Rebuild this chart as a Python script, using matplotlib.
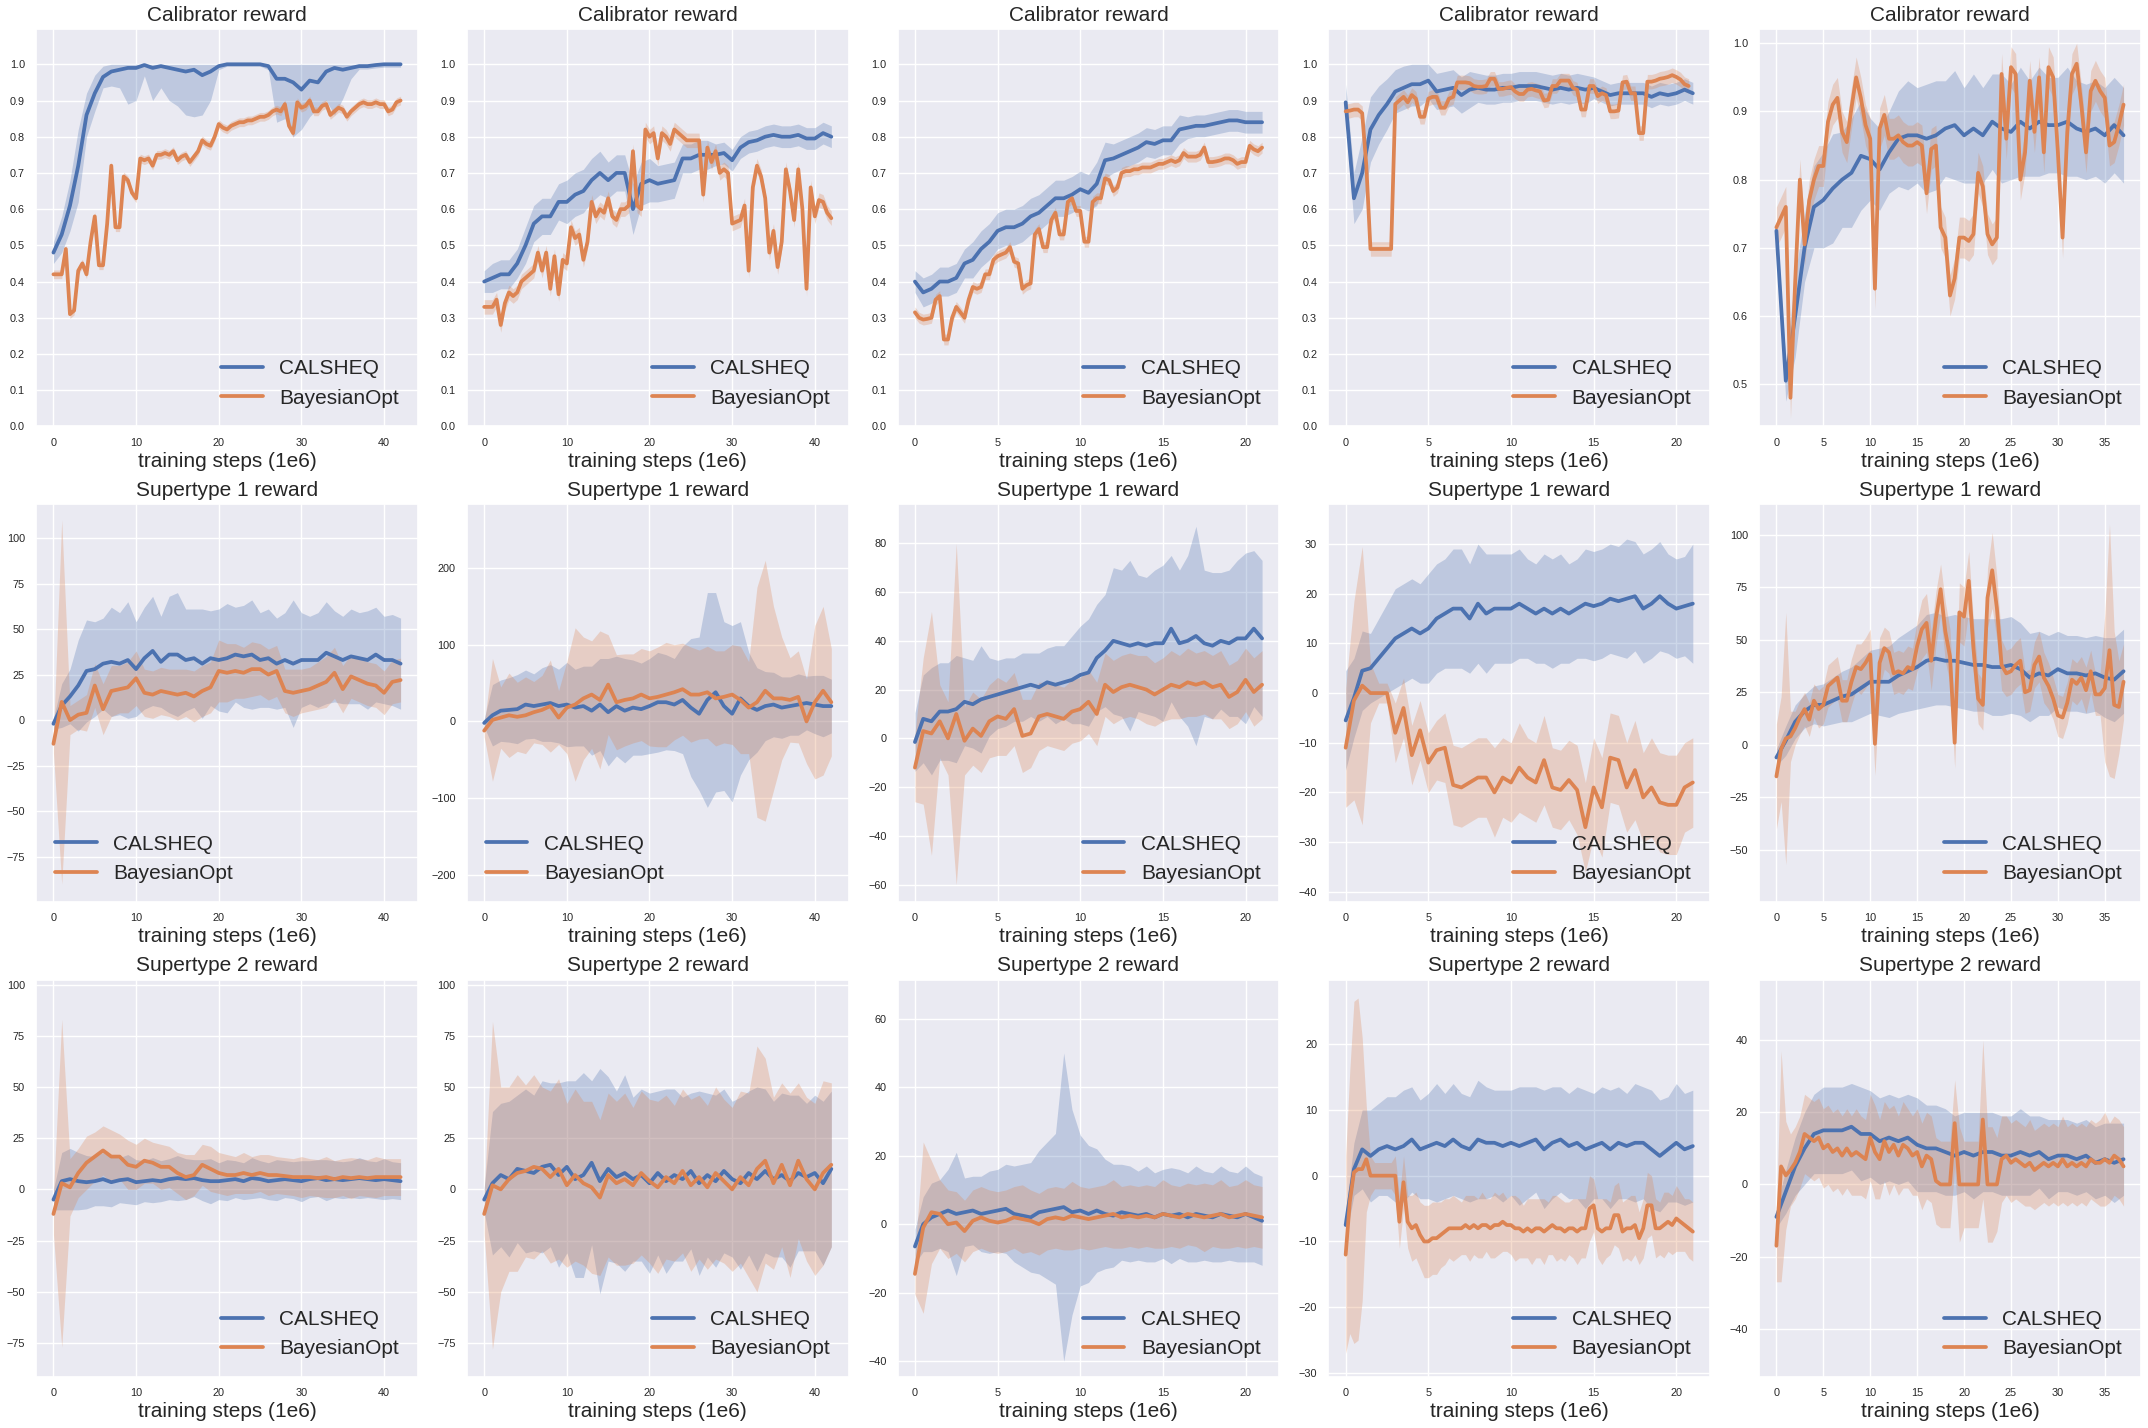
import matplotlib.pyplot as plt
import numpy as np
import seaborn as sns
from matplotlib.ticker import MultipleLocator

sns.set_theme(style='darkgrid')
plt.rcParams['font.family'] = ['Liberation Sans', 'DejaVu Sans']

labels = ['CALSHEQ', 'BayesianOpt']
titles = ['Calibrator reward', 'Supertype 1 reward', 'Supertype 2 reward']

# ---------------- Calibrator reward ----------------
cal1_q = [0.48,0.53,0.61,0.72,0.86,0.92,0.965,0.98,0.985,0.99,0.99,0.998,0.99,0.995,0.99,0.985,0.98,0.985,0.97,0.98,0.995,1.0,1.0,1.0,1.0,1.0,0.995,0.96,0.96,0.95,0.93,0.955,0.95,0.98,0.99,0.985,0.99,0.995,0.995,0.998,1.0,1.0,1.0]
cal1_q_sd = [0.03,0.05,0.07,0.1,0.06,0.05,0.03,0.04,0.05,0.1,0.09,0.03,0.09,0.06,0.09,0.1,0.12,0.13,0.11,0.08,0.01,0.005,0.005,0.005,0.005,0.005,0.01,0.12,0.11,0.15,0.11,0.1,0.07,0.08,0.13,0.08,0.03,0.008,0.008,0.008,0.008,0.008,0.008]
cal1_b = [0.42,0.42,0.42,0.49,0.31,0.32,0.43,0.45,0.42,0.51,0.58,0.445,0.445,0.56,0.72,0.55,0.55,0.69,0.68,0.645,0.63,0.74,0.735,0.74,0.72,0.75,0.75,0.755,0.75,0.76,0.735,0.745,0.75,0.73,0.745,0.76,0.79,0.78,0.775,0.80,0.835,0.825,0.82,0.83,0.835,0.84,0.84,0.845,0.845,0.85,0.855,0.855,0.86,0.87,0.875,0.87,0.89,0.83,0.81,0.895,0.88,0.885,0.90,0.87,0.87,0.885,0.89,0.86,0.87,0.88,0.875,0.855,0.87,0.88,0.89,0.895,0.89,0.89,0.895,0.89,0.89,0.87,0.875,0.895,0.90]

cal2_q = [0.40,0.41,0.42,0.42,0.45,0.50,0.56,0.58,0.58,0.62,0.62,0.64,0.65,0.68,0.70,0.68,0.70,0.70,0.60,0.67,0.68,0.67,0.675,0.68,0.74,0.74,0.75,0.75,0.75,0.755,0.735,0.77,0.785,0.79,0.80,0.805,0.80,0.80,0.805,0.795,0.795,0.81,0.80]
cal2_q_sd = [0.03,0.04,0.04,0.04,0.04,0.05,0.05,0.05,0.05,0.05,0.06,0.06,0.06,0.06,0.06,0.05,0.05,0.05,0.07,0.06,0.06,0.05,0.05,0.05,0.04,0.04,0.04,0.04,0.03,0.03,0.03,0.03,0.03,0.03,0.03,0.03,0.03,0.03,0.03,0.03,0.03,0.03,0.03]
cal2_b = [0.33,0.33,0.33,0.35,0.28,0.34,0.37,0.36,0.37,0.40,0.41,0.42,0.43,0.48,0.43,0.48,0.38,0.47,0.365,0.46,0.45,0.55,0.52,0.53,0.46,0.51,0.62,0.58,0.60,0.59,0.63,0.58,0.57,0.60,0.60,0.61,0.76,0.61,0.60,0.82,0.80,0.81,0.74,0.81,0.80,0.78,0.82,0.81,0.80,0.79,0.79,0.79,0.79,0.64,0.77,0.73,0.76,0.70,0.71,0.70,0.56,0.565,0.57,0.61,0.43,0.66,0.72,0.69,0.63,0.48,0.54,0.44,0.51,0.71,0.65,0.57,0.71,0.60,0.38,0.66,0.58,0.625,0.62,0.59,0.575]

cal3_q = [0.40,0.37,0.38,0.40,0.40,0.41,0.45,0.46,0.49,0.51,0.54,0.55,0.55,0.56,0.58,0.59,0.61,0.63,0.63,0.64,0.655,0.645,0.67,0.735,0.74,0.75,0.76,0.77,0.785,0.78,0.79,0.79,0.82,0.825,0.83,0.83,0.835,0.84,0.845,0.845,0.84,0.84,0.84]
cal3_q_sd = [0.03,0.04,0.04,0.04,0.04,0.04,0.04,0.05,0.05,0.05,0.05,0.05,0.05,0.05,0.05,0.05,0.05,0.05,0.05,0.05,0.05,0.05,0.06,0.05,0.04,0.04,0.04,0.04,0.04,0.04,0.04,0.04,0.04,0.03,0.03,0.03,0.03,0.03,0.03,0.03,0.03,0.03,0.03]
cal3_b = [0.315,0.30,0.295,0.297,0.30,0.35,0.36,0.24,0.24,0.30,0.33,0.315,0.30,0.35,0.385,0.38,0.385,0.42,0.42,0.46,0.47,0.475,0.48,0.495,0.455,0.45,0.38,0.39,0.395,0.53,0.545,0.495,0.495,0.57,0.59,0.53,0.53,0.62,0.63,0.595,0.595,0.51,0.51,0.62,0.63,0.63,0.685,0.68,0.65,0.66,0.70,0.705,0.705,0.71,0.71,0.715,0.715,0.715,0.72,0.725,0.725,0.73,0.735,0.73,0.735,0.755,0.745,0.745,0.745,0.75,0.77,0.73,0.73,0.732,0.735,0.74,0.74,0.735,0.725,0.73,0.73,0.775,0.765,0.76,0.77]

cal4_q = [0.895,0.63,0.70,0.82,0.86,0.89,0.925,0.935,0.945,0.945,0.955,0.925,0.93,0.935,0.915,0.93,0.935,0.93,0.93,0.935,0.935,0.94,0.94,0.94,0.935,0.93,0.935,0.93,0.935,0.93,0.935,0.925,0.915,0.92,0.92,0.92,0.92,0.91,0.92,0.915,0.92,0.93,0.92]
cal4_q_sd = [0.05,0.07,0.1,0.09,0.08,0.07,0.06,0.06,0.06,0.06,0.05,0.05,0.05,0.05,0.05,0.05,0.04,0.04,0.04,0.04,0.04,0.04,0.04,0.04,0.04,0.04,0.04,0.04,0.04,0.04,0.03,0.03,0.03,0.03,0.03,0.03,0.03,0.03,0.03,0.03,0.03,0.03,0.03]
cal4_b = [0.87,0.872,0.875,0.875,0.865,0.72,0.49,0.49,0.49,0.49,0.49,0.49,0.89,0.90,0.91,0.895,0.915,0.905,0.855,0.855,0.905,0.91,0.91,0.88,0.88,0.905,0.91,0.95,0.95,0.95,0.948,0.94,0.938,0.938,0.94,0.96,0.96,0.932,0.932,0.935,0.937,0.925,0.918,0.918,0.93,0.932,0.928,0.925,0.90,0.902,0.94,0.94,0.955,0.955,0.955,0.935,0.93,0.875,0.875,0.94,0.94,0.912,0.92,0.915,0.87,0.87,0.872,0.95,0.952,0.92,0.92,0.81,0.81,0.952,0.952,0.955,0.96,0.962,0.965,0.97,0.965,0.958,0.945,0.94]

cal5_q = [0.725,0.505,0.60,0.70,0.76,0.77,0.787,0.80,0.81,0.835,0.83,0.815,0.84,0.86,0.865,0.865,0.86,0.865,0.875,0.88,0.865,0.875,0.865,0.885,0.875,0.87,0.885,0.875,0.885,0.88,0.88,0.885,0.875,0.87,0.875,0.865,0.88,0.865]
cal5_q_sd = [0.01,0.03,0.06,0.05,0.06,0.07,0.08,0.07,0.08,0.08,0.06,0.06,0.06,0.07,0.08,0.07,0.08,0.08,0.07,0.08,0.07,0.08,0.07,0.07,0.08,0.07,0.08,0.07,0.08,0.07,0.07,0.08,0.07,0.07,0.07,0.07,0.07,0.07]
cal5_b = [0.73,0.745,0.76,0.48,0.65,0.80,0.705,0.77,0.80,0.82,0.82,0.885,0.91,0.92,0.87,0.855,0.905,0.95,0.92,0.88,0.86,0.64,0.875,0.895,0.86,0.86,0.865,0.855,0.85,0.85,0.855,0.85,0.78,0.845,0.85,0.73,0.715,0.63,0.655,0.715,0.715,0.71,0.72,0.81,0.79,0.72,0.705,0.715,0.955,0.86,0.965,0.955,0.80,0.84,0.945,0.87,0.95,0.84,0.965,0.95,0.84,0.715,0.87,0.955,0.97,0.91,0.84,0.93,0.945,0.93,0.92,0.85,0.855,0.88,0.91]

# ---------------- Supertype 1 reward ----------------
st1_1_q = [-2,8,13,19,27,28,31,32,31,33,28,34,38,32,36,36,33,34,31,34,33,34,36,35,36,33,34,31,33,31,33,33,33,37,35,33,35,34,33,36,33,33,31]
st1_1_q_sd = [3,12,15,25,28,26,25,30,28,32,26,28,30,25,32,34,28,27,30,26,28,30,26,28,30,26,27,25,26,35,26,24,26,28,25,24,26,25,27,26,24,25,25]
st1_1_b = [-13,10,0,3,4,19,6,16,17,18,23,15,14,16,15,14,15,13,16,18,27,26,27,26,28,28,25,27,16,15,16,17,19,21,26,17,24,22,20,19,15,21,22]
st1_1_b_sd = [5,100,8,8,10,12,14,14,13,14,15,13,13,13,13,14,13,14,14,14,17,16,15,14,15,14,14,14,12,13,12,12,13,14,14,13,12,12,12,12,12,12,12]

st1_2_q = [-2,8,14,15,16,22,20,22,24,20,22,18,20,14,22,12,20,14,18,16,20,25,25,22,28,18,10,28,38,20,10,30,20,15,20,22,18,20,22,24,22,20,20]
st1_2_q_sd = [5,40,40,42,45,45,42,48,50,48,55,50,52,58,60,70,65,68,62,60,62,65,62,60,70,90,100,140,130,110,115,100,70,55,45,42,40,38,40,35,38,40,35]
st1_2_b = [-12,2,5,8,6,8,12,15,20,5,18,22,30,35,28,48,25,28,30,35,30,32,35,38,42,35,35,38,30,32,35,28,18,25,40,30,30,28,32,0,25,40,25]
st1_2_b_sd = [8,80,40,55,45,50,40,45,60,35,60,100,80,70,90,65,62,60,58,60,62,65,68,62,60,62,58,60,62,60,65,70,60,150,170,120,80,55,60,55,100,110,70]

st1_3_q = [-1.5,8,7,11,11,12,15,14,16,17,18,19,20,21,22,21,23,22,23,24,26,27,33,36,40,39,38,39,38,39,39,45,39,40,42,39,38,40,39,41,41,45,41]
st1_3_q_sd = [12,18,22,20,20,22,18,18,22,16,14,14,13,14,13,14,14,16,15,18,20,22,22,23,30,30,35,28,28,30,32,30,30,35,45,30,30,28,30,32,35,32,32]
st1_3_b = [-12,3,2,7,0,10,-1,4,1,7,9,8,12,1,2,9,10,9,8,11,12,15,10,22,19,21,22,21,20,18,20,22,21,23,22,23,21,22,17,19,24,19,22]
st1_3_b_sd = [14,30,50,15,15,70,14,15,15,15,16,15,15,15,14,14,13,13,13,13,13,13,13,13,13,13,13,13,14,13,13,14,13,14,13,13,13,14,13,13,13,14,14]

st1_4_q = [-5.5,-1,4.5,5,7,9,11,12,13,12,13,15,16,17,17,15,18,16,17,17,17,18,17,16,17,16,17,16,17,18,17.5,18,19,18.5,19,19.5,17,18,19.5,18,17,17.5,18]
st1_4_q_sd = [10,8,8,7,8,9,10,10,10,10,11,11,11,12,12,11,12,12,11,11,11,11,10,10,11,11,11,10,10,11,11,11,11,11,12,11,11,11,11,10,10,10,12]
st1_4_b = [-11,-1.5,1.5,0,0,0,-8,-3,-12.5,-7.5,-14,-11.5,-11,-18.5,-19,-18,-17,-17,-20,-17,-18,-15,-17,-18,-13.5,-19,-19.5,-17.5,-19.5,-27,-19,-23,-13,-13.5,-19,-15.5,-21,-19,-22,-22.5,-22.5,-19,-18]
st1_4_b_sd = [12,20,28,6,2,2,6,6,6,6,6,6,7,8,8,8,8,8,9,8,8,9,8,8,9,8,8,8,9,9,10,10,9,9,9,10,9,10,10,10,10,9,9]

st1_5_q = [-6,2,11,16,19,19,21,23,24,27,30,30,30,33,35,37,40,41,40,40,39,38,38,37,37,38,36,32,34,33,36,34,34,33,34,32,31,35]
st1_5_q_sd = [4,7,8,8,9,10,11,12,13,14,15,16,17,18,19,20,22,22,21,22,22,22,22,23,23,23,22,21,20,19,18,18,18,18,18,19,20,20]
st1_5_b = [-15,-2,3,4,8,13,17,12,21,17,19,28,30,32,21,21,30,37,36,39,43,0.5,39,46,44,34,35,34,37,36,47,55,58,40,60,74,54,42,1,63,61,78,46,22,19,70,83,65,38,34,35,38,40,25,26,38,42,32,28,22,14,13,20,31,29,32,26,35,24,24,27,45,19,18,30]
st1_5_b_sd = [25,25,60,12,8,8,8,8,8,9,9,10,10,10,10,10,11,11,12,12,12,15,12,10,10,10,10,10,10,10,12,14,14,14,13,12,14,13,12,14,14,14,13,12,12,14,18,15,12,11,11,11,11,10,10,11,12,12,11,10,10,10,10,10,10,10,11,10,10,10,35,60,35,22,18]

# ---------------- Supertype 2 reward ----------------
st2_1_q = [-5,4,5,4,3.5,4,5,3.5,4.5,5,3.5,4,4.5,4,5,5.5,5,5.5,4.5,4,4,4.5,5,4,5.5,5,4,4.5,5,4.5,4,5,5.5,4.5,5,4.5,5,5.5,5,4.5,5,4.5,4]
st2_1_q_sd = [5,14,15,14,13,12,13,12,11,12,11,10,11,10,10,11,10,9,10,11,9,10,9,9,10,9,9,10,9,9,10,9,9,10,9,9,9,10,9,9,10,9,9]
st2_1_b = [-12,3,1,8,13,16,19,16,16,12,11,14,13,11,11,8,6,7,12,10,8,7,7,8,7,8,7,7,6.5,6,6,6,5.5,6,5,6,5.5,6,5.5,6,6,6,6]
st2_1_b_sd = [10,80,14,12,13,12,12,13,11,12,11,11,10,11,10,10,11,10,10,11,10,10,9,10,9,9,10,9,9,9,10,9,9,10,9,9,10,9,9,10,9,9,9]

st2_2_q = [-5,3,7,5,10,9,8,11,12,7,11,5,7,13,4,10,6,8,5,7,3,8,4,7,5,9,3,7,4,9,5,3,8,5,9,5,7,4,8,6,8,3,10]
st2_2_q_sd = [6,35,35,38,36,40,38,42,40,45,42,48,50,40,55,45,42,48,40,42,44,40,45,42,40,38,45,40,42,40,38,42,40,45,40,38,40,42,38,36,38,40,38]
st2_2_b = [-12,2,0,5,8,9,11,10,6,10,2,7,3,1,-4,7,3,5,2,8,4,1,6,3,9,2,6,1,8,4,0,6,2,10,14,3,12,2,14,5,0,8,12]
st2_2_b_sd = [10,80,50,45,48,42,45,40,42,44,40,42,40,42,38,40,40,42,38,40,40,42,40,38,40,42,40,40,42,40,40,42,45,60,50,42,40,45,38,40,42,45,40]

st2_3_q = [-6.5,0,2,3,4,3,3.5,4,3,3.5,4,4.5,3,2.5,2,3.5,4,4.5,5,3.5,4,3,4,3,2.5,3.5,3,2.5,3,2,3,2.5,3,2,3,2.5,2,3,2.5,2,3,2,1]
st2_3_q_sd = [5,8,10,10,12,18,10,10,11,12,12,13,14,15,16,18,20,22,45,30,22,20,18,16,15,14,14,13,14,13,13,14,13,13,14,13,13,14,13,13,14,13,13]
st2_3_b = [-14.5,-1,3.5,3,0,0.5,-2,1,2,1,0.5,1,2,1.5,1,0,1.5,2,1.5,2.5,2,1.5,2,2.5,3,2,2.5,2,2.5,2,3,2.5,2,3,2.5,2,2.5,3,2,2.5,3,2.5,2]
st2_3_b_sd = [6,25,15,10,10,9,9,9,9,9,9,9,9,10,9,9,9,9,9,10,9,9,9,9,10,9,9,9,9,9,10,9,9,9,9,10,9,10,9,9,10,9,9]

st2_4_q = [-7.5,1,4,3,4,4.5,4,4.5,5.5,4,4.5,5,4.5,5.5,4.5,4,5.5,5,5,4.5,5,4.5,5,5.5,4,5,5.5,4.5,5,4,4.5,5,4,5,4.5,5,5,4,3,4,5,4,4.5]
st2_4_q_sd = [2,4,6,7,7,7.5,8,8.5,8,7.5,8,9,8,8.5,8,8,9,8.5,8,8.5,8,9,8.5,8,9,8.5,8,8,8.5,9,8,8.5,9,8.5,8,9,8.5,9,8.5,8,9,8.5,8.5]
st2_4_b = [-12,-4,0.5,1,1,2.5,0,0,0,0,0,0,0,-7,-1,-7,-8,-7.5,-9,-10,-10,-9.5,-9.5,-9,-8.5,-8,-8,-8,-8,-7.5,-8,-7.5,-8,-7.5,-7.5,-8,-7.5,-7.5,-7,-7.5,-7.5,-8,-8,-8.5,-8,-8.5,-8,-8,-8.5,-8,-7.5,-8,-8,-8.5,-8,-8,-8.5,-8,-8,-5,-4.5,-8,-8.5,-8,-8,-6,-6,-8.5,-8,-8,-7.5,-9.5,-8,-4.5,-4.5,-8,-8,-7.5,-7,-7.5,-6.5,-7,-7.5,-8,-8.5]
st2_4_b_sd = [15,20,26,26,20,8,3,2,2,2,2,2,3,4,4,4,5,5,5,5.5,5.5,5.5,5.5,5,5,
              4.5,5,4.5,4,4.5,5,4.5,4.5,5,4,4.5,5,4.5,4.5,4,4.5,5,4.5,4,4.5,
              5,4.5,4.5,5,4,4.5,5,4.5,4.5,4,4.5,5,4.5,4.5,5,4,4.5,5,4.5,4,
              4.5,5,4.5,4.5,5,4.5,4,4.5,5,4.5,4.5,4,5,4.5,4.5,5,4.5,4,4.5,4.5]

st2_5_q = [-9,-2,5,10,14,15,15,15,16,14,14,12,13,12,13,11,10,10,9,8,9,8,9,9,8,8,9,8,9,7,8,8,7,8,6,7,6,7]
st2_5_q_sd = [3,6,8,10,11,12,12,12,12,13,12,12,12,12,12,13,12,12,12,11,11,12,11,11,11,11,12,11,10,11,10,10,10,10,10,10,11,10]
st2_5_b = [-17,5,2.5,4,6,9,14,13,12,13,10,11,9,10,8,10,8,9,8,7,13,9,7,12,9,11,8,11,10,8,9,5,8,7,1,0,0,0,17,0,0,0,0,0,18,0,0,0,7,8,6,7,6,5,6,4,5,6,5,6,5,7,5,6,5,6,5,7,6,6,7,6,8,7,5]
st2_5_b_sd = [10,32,15,10,10,10,11,11,11,11,11,11,11,11,11,11,11,12,11,11,12,13,11,11,12,11,11,12,11,11,12,12,12,12,12,12,12,12,12,16,12,12,12,12,22,16,16,13,12,11,11,11,11,11,12,11,11,11,11,11,11,12,11,11,11,11,11,11,11,12,13,11,11,11,11]

# (mean, spread, step in 1e6 training steps) for CALSHEQ and BayesianOpt
panels = [
    [(cal1_q, cal1_q_sd, 1.0), (cal1_b, 0.012, 0.5)],
    [(cal2_q, cal2_q_sd, 1.0), (cal2_b, 0.02, 0.5)],
    [(cal3_q, cal3_q_sd, 0.5), (cal3_b, 0.015, 0.25)],
    [(cal4_q, cal4_q_sd, 0.5), (cal4_b, 0.02, 0.25)],
    [(cal5_q, cal5_q_sd, 1.0), (cal5_b, 0.03, 0.5)],
    [(st1_1_q, st1_1_q_sd, 1.0), (st1_1_b, st1_1_b_sd, 1.0)],
    [(st1_2_q, st1_2_q_sd, 1.0), (st1_2_b, st1_2_b_sd, 1.0)],
    [(st1_3_q, st1_3_q_sd, 0.5), (st1_3_b, st1_3_b_sd, 0.5)],
    [(st1_4_q, st1_4_q_sd, 0.5), (st1_4_b, st1_4_b_sd, 0.5)],
    [(st1_5_q, st1_5_q_sd, 1.0), (st1_5_b, st1_5_b_sd, 0.5)],
    [(st2_1_q, st2_1_q_sd, 1.0), (st2_1_b, st2_1_b_sd, 1.0)],
    [(st2_2_q, st2_2_q_sd, 1.0), (st2_2_b, st2_2_b_sd, 1.0)],
    [(st2_3_q, st2_3_q_sd, 0.5), (st2_3_b, st2_3_b_sd, 0.5)],
    [(st2_4_q, st2_4_q_sd, 0.5), (st2_4_b, st2_4_b_sd, 0.25)],
    [(st2_5_q, st2_5_q_sd, 1.0), (st2_5_b, st2_5_b_sd, 0.5)],
]

ylims = [(0, 1.0975), (0, 1.0975), (0, 1.0975), (0, 1.0975), (0.438, 1.021),
         (-99.7, 118.5), (-235, 283), (-67, 96), (-42, 38), (-74.6, 114.4),
         (-91.6, 102.4), (-91.6, 102.4), (-44.6, 71.4), (-30.6, 29.8), (-53.4, 56.8)]
ysteps = [0.1, 0.1, 0.1, 0.1, 0.1,
          25, 100, 20, 10, 25,
          25, 25, 20, 10, 20]
leg_locs = ['lower right'] * 5 + ['lower left', 'lower left'] + ['lower right'] * 8

colors = ['#4C72B0', '#DD8452']

fig, axes = plt.subplots(3, 5, figsize=(21.48, 14.28), dpi=100)
fig.subplots_adjust(left=0.0168, right=0.9967, top=0.9797, bottom=0.0357,
                    wspace=0.128, hspace=0.196)

for k, ax in enumerate(axes.flat):
    row = k // 5
    for (m, s, dx), c, lab in zip(panels[k], colors, labels):
        m = np.asarray(m, dtype=float)
        s = np.asarray(s, dtype=float)
        x = np.arange(len(m)) * dx
        lo = m - s
        hi = m + s
        if row == 0:
            hi = np.minimum(hi, 1.0)
        ax.plot(x, m, color=c, lw=2.7, label=lab)
        ax.fill_between(x, lo, hi, color=c, alpha=0.28, lw=0)
    ax.set_ylim(*ylims[k])
    ax.yaxis.set_major_locator(MultipleLocator(ysteps[k]))
    ax.tick_params(labelsize=7.8, pad=2)
    ax.set_title(titles[row], fontsize=15)
    ax.set_xlabel('training steps (1e6)', fontsize=15, labelpad=3)
    ax.legend(loc=leg_locs[k], fontsize=15, frameon=False)

fig.savefig('out.png', dpi=100)
